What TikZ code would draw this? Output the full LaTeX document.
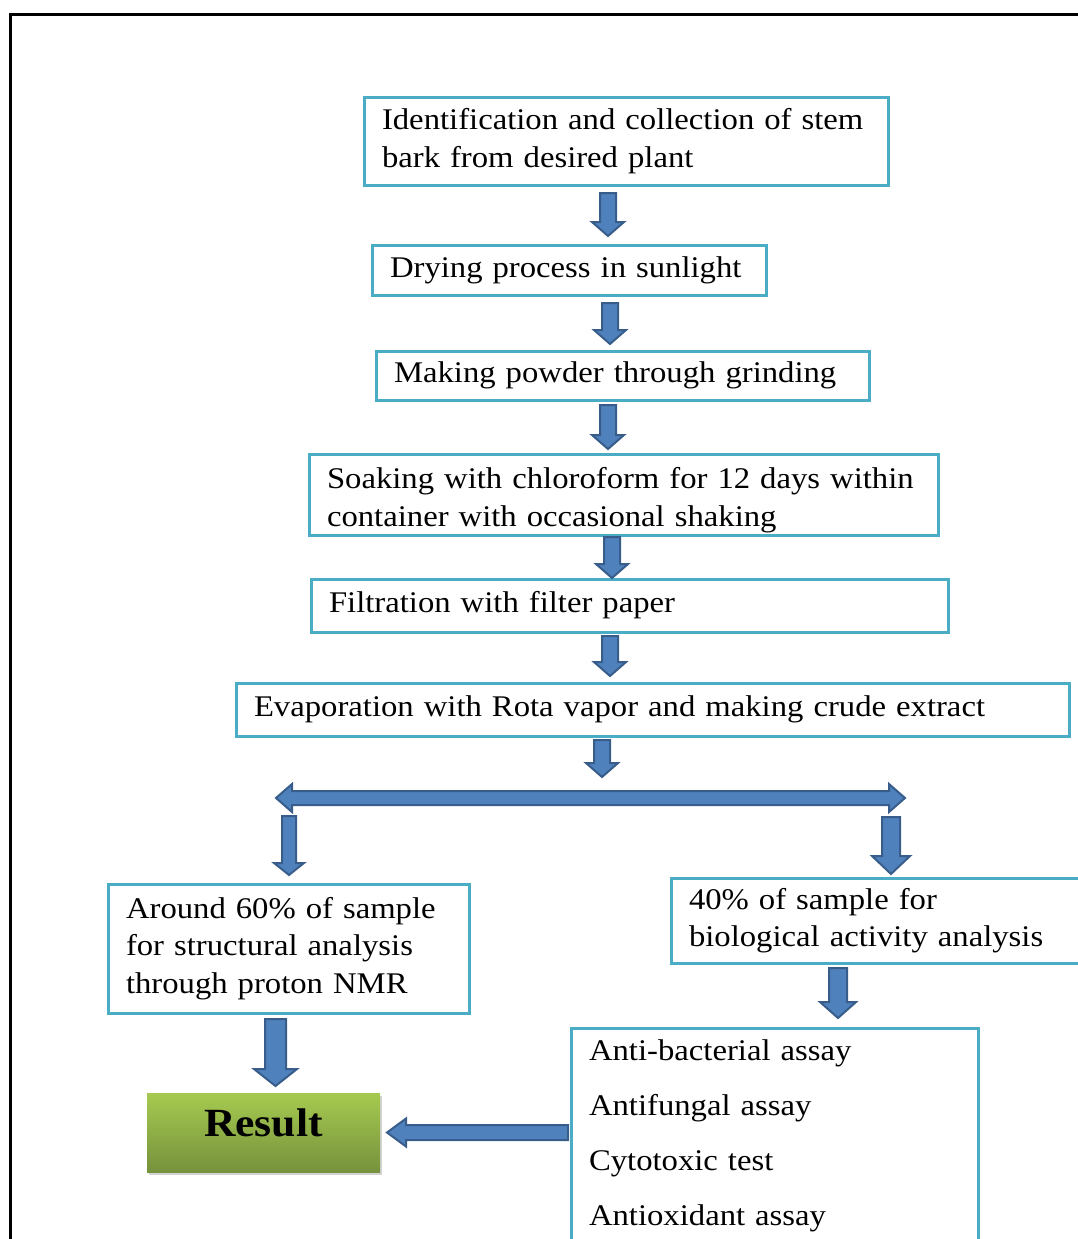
\documentclass[tikz,border=0pt]{standalone}
\usepackage{fontspec}
\setmainfont{Liberation Serif}[FakeStretch=1.09]
\usetikzlibrary{calc,shadows}
\definecolor{boxline}{RGB}{75,172,198}
\definecolor{arrowfill}{RGB}{79,129,189}
\definecolor{arrowline}{RGB}{56,93,138}
\definecolor{resulttop}{RGB}{166,202,80}
\definecolor{resultbot}{RGB}{118,146,60}
\tikzset{
  stepbox/.style={draw=boxline, line width=3pt, anchor=north west, align=left, inner xsep=18pt, inner ysep=0pt, outer sep=0pt, font=\fontsize{30}{37.5}\selectfont},
  resultbox/.style={anchor=north west, minimum width=233pt, minimum height=79pt, inner sep=0pt, outer sep=0pt, top color=resulttop, bottom color=resultbot, drop shadow={shadow xshift=2pt, shadow yshift=-3pt, opacity=0.35}, text height=28pt, text depth=21pt, font=\fontsize{40}{48}\selectfont\bfseries},
  flowarrow/.style n args={3}{fill=arrowfill, draw=arrowline, line width=2pt, to path={
    ($(\tikztostart)!#1!90:(\tikztotarget)$)
    -- ($(\tikztotarget)!#3!(\tikztostart)!#1!90:(\tikztotarget)$)
    -- ($(\tikztotarget)!#3!(\tikztostart)!#2!90:(\tikztotarget)$)
    -- (\tikztotarget)
    -- ($(\tikztotarget)!#3!(\tikztostart)!#2!-90:(\tikztotarget)$)
    -- ($(\tikztotarget)!#3!(\tikztostart)!#1!-90:(\tikztotarget)$)
    -- ($(\tikztostart)!#1!-90:(\tikztotarget)$)
    -- cycle}},
  bothways/.style n args={3}{fill=arrowfill, draw=arrowline, line width=2pt, to path={
    (\tikztostart)
    -- ($(\tikztostart)!#3!(\tikztotarget)!#2!90:(\tikztotarget)$)
    -- ($(\tikztostart)!#3!(\tikztotarget)!#1!90:(\tikztotarget)$)
    -- ($(\tikztotarget)!#3!(\tikztostart)!#1!90:(\tikztotarget)$)
    -- ($(\tikztotarget)!#3!(\tikztostart)!#2!90:(\tikztotarget)$)
    -- (\tikztotarget)
    -- ($(\tikztotarget)!#3!(\tikztostart)!#2!-90:(\tikztotarget)$)
    -- ($(\tikztotarget)!#3!(\tikztostart)!#1!-90:(\tikztotarget)$)
    -- ($(\tikztostart)!#3!(\tikztotarget)!#1!-90:(\tikztotarget)$)
    -- ($(\tikztostart)!#3!(\tikztotarget)!#2!-90:(\tikztotarget)$)
    -- cycle}}
}
\begin{document}
\begin{tikzpicture}[x=1pt, y=-1pt, line join=miter]
  \useasboundingbox (0,0) rectangle (1078,1239);
  \clip (0,0) rectangle (1078,1239);
  \draw[line width=2.5pt] (10.5,1250) -- (10.5,14.5) -- (1090,14.5);
  \node[stepbox, minimum width=524pt, minimum height=88pt, text width=488pt] (b1) at (364,97) {Identification and collection of stem\\bark from desired plant};
  \node[stepbox, minimum width=394pt, minimum height=50pt, text width=358pt] (b2) at (372,245) {Drying process in sunlight};
  \node[stepbox, minimum width=493pt, minimum height=49pt, text width=457pt] (b3) at (376,351) {Making powder through grinding};
  \node[stepbox, minimum width=629pt, minimum height=81pt, text width=593pt] (b4) at (309,454) {\mbox{\rule{0pt}{32pt}Soaking with chloroform for 12 days within}\\container with occasional shaking};
  \node[stepbox, minimum width=637pt, minimum height=53pt, text width=601pt] (b5) at (311,579) {Filtration with filter paper};
  \node[stepbox, minimum width=833pt, minimum height=53pt, text width=797pt] (b6) at (236,683) {Evaporation with Rota vapor and making crude extract};
  \node[stepbox, minimum width=361pt, minimum height=129pt, text width=325pt] (b7) at (108,884) {Around 60\% of sample\\for structural analysis\\through proton NMR};
  \node[stepbox, minimum width=420pt, minimum height=85pt, text width=384pt] (b8) at (671,878) {40\% of sample for\\biological activity analysis};
  \node[stepbox, minimum width=407pt, text width=371pt, inner ysep=12pt, font=\fontsize{30}{55}\selectfont] (b9) at (571,1028) {Anti-bacterial assay\\Antifungal assay\\Cytotoxic test\\Antioxidant assay};
  \node[resultbox] (res) at (147,1093) {Result};
  \foreach \up/\dn/\dx/\ga/\gb [count=\i] in {b1/b2/-18/8/9, b2/b3/41/8/7, b3/b4/-14.5/5/5, b4/b5/-11.5/2/1, b5/b6/-19.5/4/7} {
    \coordinate (s\i) at ($(\up.south)+(\dx,\ga)$);
    \coordinate (e\i) at ($(s\i |- \dn.north)+(0,-\gb)$);
    \path[flowarrow={8pt}{16pt}{14pt}] (s\i) to (e\i);
  }
  \coordinate (sl) at (276,798);
  \coordinate (sr) at (905,798);
  \coordinate (s6) at ($(b6.south)+(-50.5,4)$);
  \coordinate (e6) at ($(s6 |- sl)+(0,-21)$);
  \path[flowarrow={8pt}{16pt}{14pt}] (s6) to (e6);
  \path[bothways={7pt}{14pt}{16pt}] (sl) to (sr);
  \coordinate (s7) at ($(b7.north)+(0.5,-68)$);
  \coordinate (e7) at ($(b7.north)+(0.5,-9)$);
  \path[flowarrow={7pt}{15pt}{12pt}] (s7) to (e7);
  \coordinate (s8) at ($(b8.north west)+(220,-61)$);
  \coordinate (e8) at ($(b8.north west)+(220,-4)$);
  \path[flowarrow={9pt}{19pt}{18pt}] (s8) to (e8);
  \coordinate (s9) at ($(b8.south west)+(167,5)$);
  \coordinate (e9) at ($(s9 |- b9.north)+(0,-10)$);
  \path[flowarrow={9pt}{18pt}{16pt}] (s9) to (e9);
  \coordinate (s10) at ($(b7.south)+(-13,6)$);
  \coordinate (e10) at ($(s10 |- res.north)+(0,-7)$);
  \path[flowarrow={10.5pt}{21.5pt}{17pt}] (s10) to (e10);
  \coordinate (s11) at ($(b9.west |- res.east)+(-3,0)$);
  \coordinate (e11) at ($(res.east)+(7,0)$);
  \path[flowarrow={7.5pt}{14pt}{19pt}] (s11) to (e11);
\end{tikzpicture}
\end{document}
